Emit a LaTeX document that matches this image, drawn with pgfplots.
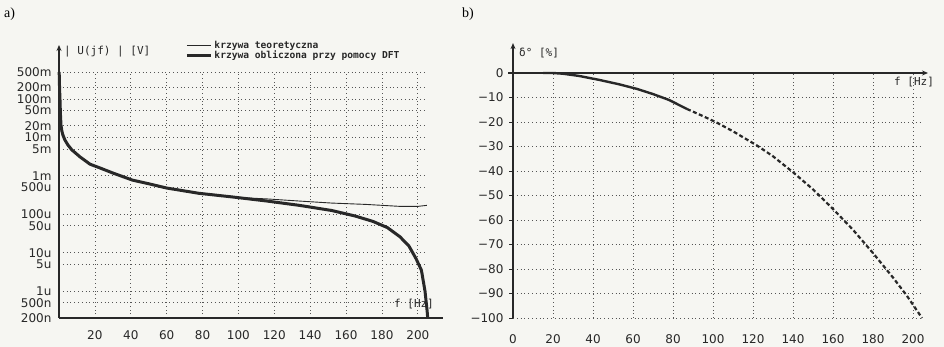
\documentclass[border=0pt]{standalone}
\usepackage{fontspec}
\setmainfont{DejaVu Sans}
\newfontfamily\seriffont{Liberation Serif}
\newfontfamily\monofont{DejaVu Sans Mono}
\usepackage{pgfplots}
\pgfplotsset{compat=1.18}
\usetikzlibrary{arrows.meta}
\definecolor{bg}{RGB}{246,246,242}
\definecolor{ink}{RGB}{40,40,40}
\definecolor{gridc}{RGB}{85,85,85}

\pgfplotstableread{
f val
0.1 0.5
0.3 0.2
0.56 0.093
0.8 0.04
1.1 0.021
1.6 0.0145
2.2 0.0114
3.3 0.0085
5.0 0.0063
7.2 0.0047
11.7 0.0031
17.3 0.0020
22.8 0.0016
30 0.00118
41 0.00077
50 0.00062
60 0.00048
78 0.00035
97 0.00028
116 0.00022
134 0.00017
152 0.000125
165 0.00009
175 0.000065
183 0.000045
190 0.000026
195 0.000015
199 0.000007
202 0.0000035
204 0.000001
205.2 0.0000003
205.5 0.0000002
}\dftdata

\pgfplotstableread{
f val
0.1 0.5
0.3 0.2
0.56 0.093
0.8 0.04
1.1 0.021
1.6 0.0145
2.2 0.0114
3.3 0.0085
5.0 0.0063
7.2 0.0047
11.7 0.0031
17.3 0.0020
22.8 0.0016
30 0.00118
41 0.00077
50 0.00062
60 0.00048
78 0.00035
97 0.00028
105 0.000265
116 0.00025
134 0.00022
152 0.000195
171 0.00018
190 0.00016
200 0.00016
205 0.00017
}\theodata

\pgfplotstableread{
f d
15 0
20 0
25 -0.3
33 -1.2
43 -2.8
53 -4.6
62 -6.5
70 -8.6
78 -11
87 -14.7
}\errsolid

\pgfplotstableread{
f d
87 -14.7
95 -17.6
102 -20.3
110 -23.8
122 -29.6
130 -34
140 -40.5
150 -47.5
160 -55.5
170 -64
180 -73.5
190 -83.5
197 -91
204.5 -100
}\errdash

\begin{document}
\begin{tikzpicture}[x=1pt,y=1pt]
\fill[bg] (0,0) rectangle (944,347);
\useasboundingbox (0,0) rectangle (944,347);
\node[anchor=west, inner sep=0pt, font=\seriffont\fontsize{14}{14}\selectfont] at (4,333) {a)};
\node[anchor=west, inner sep=0pt, font=\seriffont\fontsize{14}{14}\selectfont] at (462,333) {b)};

% ---------------- panel a ----------------
\begin{axis}[
  at={(59pt,29pt)}, anchor=south west, scale only axis,
  width=366pt, height=246pt,
  xmin=0, xmax=204, ymode=log, ymin=2e-7, ymax=0.5,
  axis lines=left, axis line style={draw=none},
  xtick={20,40,60,80,100,120,140,160,180,200},
  xticklabels={20,40,60,80,100,120,140,160,180,200},
  ytick={0.5,0.2,0.1,0.05,0.02,0.01,0.005,0.001,5e-4,1e-4,5e-5,1e-5,5e-6,1e-6,5e-7,2e-7},
  yticklabels={500m,200m,100m,50m,20m,10m,5m,1m,500u,100u,50u,10u,5u,1u,500n,200n},
  grid=major, grid style={gridc, line width=0.7pt, dash pattern=on 0.8pt off 3pt},
  major tick length=0pt,
  tick label style={font=\fontsize{12}{12}\selectfont, text=ink},
  yticklabel style={xshift=-4pt},
  xticklabel style={yshift=-9.5pt},
  clip=false,
  reverse legend,
  legend cell align=left,
  legend style={draw=none, fill=none, at={(axis description cs:0.345,1.135)}, anchor=north west,
    font=\monofont\bfseries\fontsize{9.6}{9.6}\selectfont, text=ink, row sep=-3pt, inner sep=0pt},
  legend image code/.code={\draw[#1] (0pt,0pt) -- (24pt,0pt);},
]
\addplot[ink, line width=3pt, line join=round] table[x=f,y=val] {\dftdata};
\addlegendentry{krzywa obliczona przy pomocy DFT}
\addplot[ink, line width=0.9pt, line join=round] table[x=f,y=val] {\theodata};
\addlegendentry{krzywa teoretyczna}
\draw[ink, line width=2pt, -{Stealth[length=6pt,width=5pt]}] (axis cs:0,2e-7) -- (axis cs:0,2.52);
\draw[ink, line width=1.3pt] (axis cs:0,2e-7) -- (axis cs:214,2e-7);
\end{axis}
\node[anchor=west, inner sep=0pt, font=\monofont\fontsize{11}{11}\selectfont, text=ink] at (64,295) {| U(jf) | [V]};
\node[inner sep=0pt, font=\monofont\fontsize{11}{11}\selectfont, text=ink] at (414,43) {f [Hz]};

% ---------------- panel b ----------------
\begin{axis}[
  at={(513pt,29pt)}, anchor=south west, scale only axis,
  width=409pt, height=245pt,
  xmin=0, xmax=204.5, ymin=-100, ymax=0,
  axis lines=left, axis line style={draw=none},
  xtick={0,20,40,60,80,100,120,140,160,180,200},
  xticklabels={0,20,40,60,80,100,120,140,160,180,200},
  ytick={-100,-90,-80,-70,-60,-50,-40,-30,-20,-10,0},
  yticklabels={−100,−90,−80,−70,−60,−50,−40,−30,−20,−10,0},
  grid=major, grid style={gridc, line width=0.7pt, dash pattern=on 0.8pt off 3pt},
  xtick style={draw=none},
  ytick style={ink, line width=0.8pt},
  tick align=outside, major tick length=4pt,
  tick label style={font=\fontsize{12}{12}\selectfont, text=ink},
  yticklabel style={xshift=-2pt},
  xticklabel style={yshift=-9.5pt},
  clip=false,
]
\addplot[ink, line width=2.4pt, line join=round] table[x=f,y=d] {\errsolid};
\addplot[ink, line width=2.2pt, dash pattern=on 4pt off 2.5pt] table[x=f,y=d] {\errdash};
\draw[ink, line width=1.6pt, -{Stealth[length=6pt,width=5pt]}] (axis cs:0,-100) -- (axis cs:0,12.2);
\draw[ink, line width=1.3pt, -{Stealth[length=6pt,width=5pt]}] (axis cs:-2.5,0) -- (axis cs:207.5,0);
\end{axis}
\node[anchor=west, inner sep=0pt, font=\monofont\fontsize{11}{11}\selectfont, text=ink] at (519,294) {δ°  [\%]};
\node[inner sep=0pt, font=\monofont\fontsize{11}{11}\selectfont, text=ink] at (914,265) {f [Hz]};
\end{tikzpicture}
\end{document}
